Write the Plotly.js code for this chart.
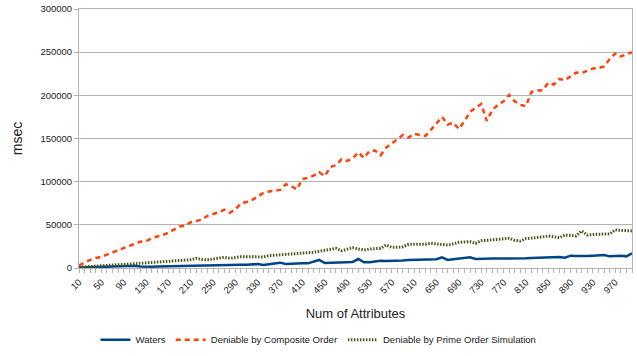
<!DOCTYPE html>
<html>
<head>
<meta charset="utf-8">
<script src="https://cdn.plot.ly/plotly-3.0.1.min.js"></script>
<style>html,body{margin:0;padding:0;background:#fff;}#chart{width:637px;height:356px;}</style>
</head>
<body>
<div id="chart"></div>
<script>
const attributes = [];
for (let a = 10; a <= 1000; a += 10) attributes.push(a);

const waters = [
  500, 700, 800, 900, 1000, 1000, 1200, 1300, 1400, 1700,
  2500, 1800, 1300, 1500, 1700, 1900, 2000, 2200, 2300, 2500,
  2700, 2900, 3000, 3100, 3200, 3300, 3500, 3400, 3600, 3800,
  3900, 4000, 4600, 3600, 4200, 5000, 6200, 4600, 5200, 5800,
  5600, 5400, 7000, 9300, 5800, 6000, 6400, 6600, 6800, 7000,
  10400, 6600, 6800, 7500, 8500, 8200, 8100, 8300, 8700, 9300,
  9400, 9600, 9700, 9900, 10200, 12400, 9300, 10200, 11000, 11200,
  12400, 10400, 10800, 11000, 11000, 10900, 10800, 10800, 10900, 10800,
  11200, 11600, 11800, 12000, 12400, 12800, 12600, 12000, 14300, 13800,
  13500, 13900, 14300, 14700, 15100, 13500, 14000, 14300, 13500, 17000
];

const composite = [
  3000, 6500, 9500, 11500, 13000, 15500, 18000, 20500, 23000, 25000,
  28000, 30500, 31000, 34500, 36500, 38000, 41000, 45000, 48000, 49000,
  53000, 54500, 56000, 60500, 62500, 64500, 67500, 64000, 68000, 75000,
  76500, 79000, 82500, 87000, 88500, 89500, 90500, 97000, 95000, 91000,
  103000, 104500, 107000, 111000, 106500, 117000, 119000, 126000, 124000, 127000,
  134000, 127500, 135500, 136000, 130500, 139500, 144000, 149000, 154000, 151000,
  155500, 154000, 153000, 160000, 168000, 175000, 166000, 168500, 161000, 170000,
  181000, 185000, 190000, 170500, 183000, 189000, 193000, 200500, 193000, 189000,
  187500, 204000, 205500, 206000, 214500, 212500, 219000, 217500, 222000, 226500,
  226000, 228500, 231000, 231500, 233500, 242000, 248500, 245000, 247500, 250000
];

const primeSim = [
  1000, 1500, 1900, 2200, 2500, 2700, 3200, 3700, 4200, 4600,
  5000, 5400, 5700, 6000, 6500, 7000, 7500, 8100, 8500, 9000,
  9600, 11200, 9800, 9500, 10400, 11000, 12400, 11200, 12300, 13100,
  13000, 13100, 12400, 12800, 14300, 14800, 15200, 15800, 16000, 16400,
  16800, 17300, 18200, 19500, 20800, 21800, 22800, 20000, 21500, 23500,
  22000, 20800, 22000, 22600, 22800, 26600, 24000, 24000, 24500, 27400,
  27400, 27000, 27400, 28600, 27800, 27400, 26600, 28000, 29800, 30200,
  30500, 28600, 31600, 32000, 32400, 32800, 33600, 34400, 32000, 31300,
  34000, 34400, 35100, 36000, 37100, 35800, 35100, 38200, 37500, 37100,
  42900, 38200, 38800, 39400, 39400, 39400, 44000, 43600, 43200, 43000
];

const xTickVals = [];
for (let a = 10; a <= 970; a += 40) xTickVals.push(a);
const yTickVals = [0, 50000, 100000, 150000, 200000, 250000, 300000];

const font = "'Liberation Sans', Arial, sans-serif";

const traces = [
  {x: attributes, y: waters, name: 'Waters', type: 'scatter', mode: 'lines',
   line: {color: '#004586', width: 2.5}},
  {x: attributes, y: composite, name: 'Deniable by Composite Order', type: 'scatter', mode: 'lines',
   line: {color: '#ff420e', width: 2.5, dash: '5px,4px'}},
  {x: attributes, y: primeSim, name: 'Deniable by Prime Order Simulation', type: 'scatter', mode: 'lines',
   line: {color: '#4a5718', width: 3, dash: '1.5px,1.5px'}}
];

const layout = {
  width: 637, height: 356,
  margin: {l: 79, r: 5, t: 9, b: 88},
  paper_bgcolor: '#fff', plot_bgcolor: '#fff',
  font: {family: font, size: 9.5, color: '#222'},
  showlegend: true,
  legend: {orientation: 'h', xref: 'container', yref: 'container', x: 0.5, xanchor: 'center',
           y: 0.005, yanchor: 'bottom', font: {size: 9.6, color: '#222'}, itemwidth: 30, tracegroupgap: 0},
  xaxis: {
    range: [10, 1000], tickvals: xTickVals, ticktext: xTickVals.map(String),
    tickangle: -45, ticks: 'outside', ticklen: 4, tickcolor: '#b3b3b3',
    minor: {dtick: 10, tick0: 10, ticks: 'outside', ticklen: 4, tickcolor: '#b3b3b3', showgrid: false},
    showgrid: false, zeroline: false, showline: true, linecolor: '#b3b3b3', linewidth: 1, mirror: true,
    tickfont: {size: 9.5, color: '#222'},
    title: {text: 'Num of Attributes', font: {size: 13, color: '#222'}, standoff: 14}
  },
  yaxis: {
    range: [0, 300000], tickvals: yTickVals, ticktext: yTickVals.map(String),
    showgrid: true, gridcolor: '#b3b3b3', gridwidth: 1, zeroline: false,
    showline: true, linecolor: '#b3b3b3', linewidth: 1, mirror: true,
    ticks: 'outside', ticklen: 4, tickcolor: '#b3b3b3',
    tickfont: {size: 9.5, color: '#222'},
    title: {text: 'msec', font: {size: 14, color: '#222'}, standoff: 14}
  }
};

Plotly.newPlot('chart', traces, layout, {displayModeBar: false, staticPlot: true});
</script>
</body>
</html>
